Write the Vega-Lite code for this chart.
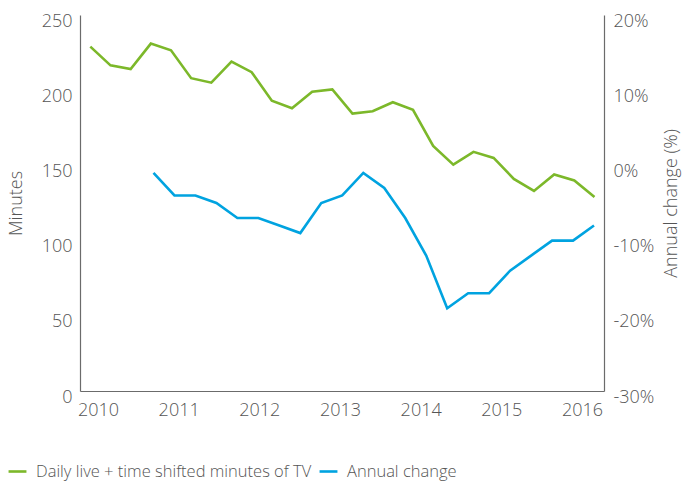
{
  "$schema": "https://vega.github.io/schema/vega-lite/v6.json",
  "width": 524,
  "height": 376,
  "autosize": {"type": "none"},
  "padding": {"left": 80, "top": 15, "right": 83, "bottom": 90},
  "config": {
    "view": {"stroke": null},
    "font": "Open Sans",
    "axis": {
      "grid": false,
      "ticks": false,
      "domainColor": "#6b6b6b",
      "domainWidth": 1.2,
      "labelFont": "Open Sans",
      "labelFontSize": 18,
      "labelFontWeight": 300,
      "labelColor": "#555555",
      "titleFont": "Open Sans",
      "titleFontSize": 18,
      "titleFontWeight": 300,
      "titleColor": "#555555"
    },
    "legend": {
      "labelFont": "Open Sans",
      "labelFontSize": 16.5,
      "labelFontWeight": 300,
      "labelColor": "#555555",
      "labelLimit": 0
    }
  },
  "layer": [
    {
      "data": {
        "values": [
          {"series": "Daily live + time shifted minutes of TV", "t": 2009.905, "minutes": 229},
          {"series": "Daily live + time shifted minutes of TV", "t": 2010.155, "minutes": 216.5},
          {"series": "Daily live + time shifted minutes of TV", "t": 2010.405, "minutes": 214},
          {"series": "Daily live + time shifted minutes of TV", "t": 2010.655, "minutes": 231},
          {"series": "Daily live + time shifted minutes of TV", "t": 2010.905, "minutes": 226.5},
          {"series": "Daily live + time shifted minutes of TV", "t": 2011.155, "minutes": 208},
          {"series": "Daily live + time shifted minutes of TV", "t": 2011.405, "minutes": 205},
          {"series": "Daily live + time shifted minutes of TV", "t": 2011.655, "minutes": 219},
          {"series": "Daily live + time shifted minutes of TV", "t": 2011.905, "minutes": 212},
          {"series": "Daily live + time shifted minutes of TV", "t": 2012.155, "minutes": 193},
          {"series": "Daily live + time shifted minutes of TV", "t": 2012.405, "minutes": 188},
          {"series": "Daily live + time shifted minutes of TV", "t": 2012.655, "minutes": 199},
          {"series": "Daily live + time shifted minutes of TV", "t": 2012.905, "minutes": 200.5},
          {"series": "Daily live + time shifted minutes of TV", "t": 2013.155, "minutes": 184.5},
          {"series": "Daily live + time shifted minutes of TV", "t": 2013.405, "minutes": 186},
          {"series": "Daily live + time shifted minutes of TV", "t": 2013.655, "minutes": 192},
          {"series": "Daily live + time shifted minutes of TV", "t": 2013.905, "minutes": 187},
          {"series": "Daily live + time shifted minutes of TV", "t": 2014.155, "minutes": 163},
          {"series": "Daily live + time shifted minutes of TV", "t": 2014.405, "minutes": 150.5},
          {"series": "Daily live + time shifted minutes of TV", "t": 2014.655, "minutes": 159},
          {"series": "Daily live + time shifted minutes of TV", "t": 2014.905, "minutes": 155},
          {"series": "Daily live + time shifted minutes of TV", "t": 2015.155, "minutes": 141},
          {"series": "Daily live + time shifted minutes of TV", "t": 2015.405, "minutes": 133},
          {"series": "Daily live + time shifted minutes of TV", "t": 2015.655, "minutes": 144},
          {"series": "Daily live + time shifted minutes of TV", "t": 2015.905, "minutes": 140},
          {"series": "Daily live + time shifted minutes of TV", "t": 2016.155, "minutes": 129}
        ]
      },
      "mark": {"type": "line", "strokeWidth": 2.6, "strokeJoin": "miter"},
      "encoding": {
        "x": {
          "field": "t",
          "type": "quantitative",
          "scale": {"domain": [2009.777, 2016.273], "nice": false, "zero": false},
          "axis": {
            "values": [2010, 2011, 2012, 2013, 2014, 2015, 2016],
            "format": "d",
            "title": null,
            "labelPadding": 10
          }
        },
        "y": {
          "field": "minutes",
          "type": "quantitative",
          "scale": {"domain": [0, 250], "nice": false},
          "axis": {
            "values": [0, 50, 100, 150, 200, 250],
            "title": "Minutes",
            "labelPadding": 8,
            "labelOffset": 6,
            "titlePadding": 16
          }
        },
        "color": {
          "field": "series",
          "type": "nominal",
          "scale": {
            "domain": ["Daily live + time shifted minutes of TV", "Annual change"],
            "range": ["#7cb82a", "#00a3e0"]
          },
          "legend": {
            "title": null,
            "orient": "none",
            "direction": "horizontal",
            "legendX": -73,
            "legendY": 446,
            "symbolType": "stroke",
            "symbolSize": 320,
            "symbolStrokeWidth": 2.6,
            "labelOffset": 8,
            "columnPadding": 2
          }
        }
      }
    },
    {
      "data": {
        "values": [
          {"series": "Annual change", "t": 2010.688, "change": -1},
          {"series": "Annual change", "t": 2010.948, "change": -4},
          {"series": "Annual change", "t": 2011.208, "change": -4},
          {"series": "Annual change", "t": 2011.468, "change": -5},
          {"series": "Annual change", "t": 2011.728, "change": -7},
          {"series": "Annual change", "t": 2011.988, "change": -7},
          {"series": "Annual change", "t": 2012.248, "change": -8},
          {"series": "Annual change", "t": 2012.508, "change": -9},
          {"series": "Annual change", "t": 2012.768, "change": -5},
          {"series": "Annual change", "t": 2013.028, "change": -4},
          {"series": "Annual change", "t": 2013.289, "change": -1},
          {"series": "Annual change", "t": 2013.549, "change": -3},
          {"series": "Annual change", "t": 2013.809, "change": -7},
          {"series": "Annual change", "t": 2014.069, "change": -12},
          {"series": "Annual change", "t": 2014.329, "change": -19},
          {"series": "Annual change", "t": 2014.589, "change": -17},
          {"series": "Annual change", "t": 2014.849, "change": -17},
          {"series": "Annual change", "t": 2015.109, "change": -14},
          {"series": "Annual change", "t": 2015.369, "change": -12},
          {"series": "Annual change", "t": 2015.629, "change": -10},
          {"series": "Annual change", "t": 2015.889, "change": -10},
          {"series": "Annual change", "t": 2016.149, "change": -8}
        ]
      },
      "mark": {"type": "line", "strokeWidth": 2.6, "strokeJoin": "miter"},
      "encoding": {
        "x": {
          "field": "t",
          "type": "quantitative",
          "scale": {"domain": [2009.777, 2016.273], "nice": false, "zero": false}
        },
        "y": {
          "field": "change",
          "type": "quantitative",
          "scale": {"domain": [-30, 20], "nice": false, "zero": false},
          "axis": {
            "orient": "right",
            "values": [-30, -20, -10, 0, 10, 20],
            "labelExpr": "datum.value + '%'",
            "title": "Annual change (%)",
            "titleAngle": 270,
            "labelPadding": 9,
            "labelOffset": 6,
            "titlePadding": 27
          }
        },
        "color": {"field": "series", "type": "nominal"}
      }
    }
  ],
  "resolve": {"scale": {"y": "independent"}}
}
